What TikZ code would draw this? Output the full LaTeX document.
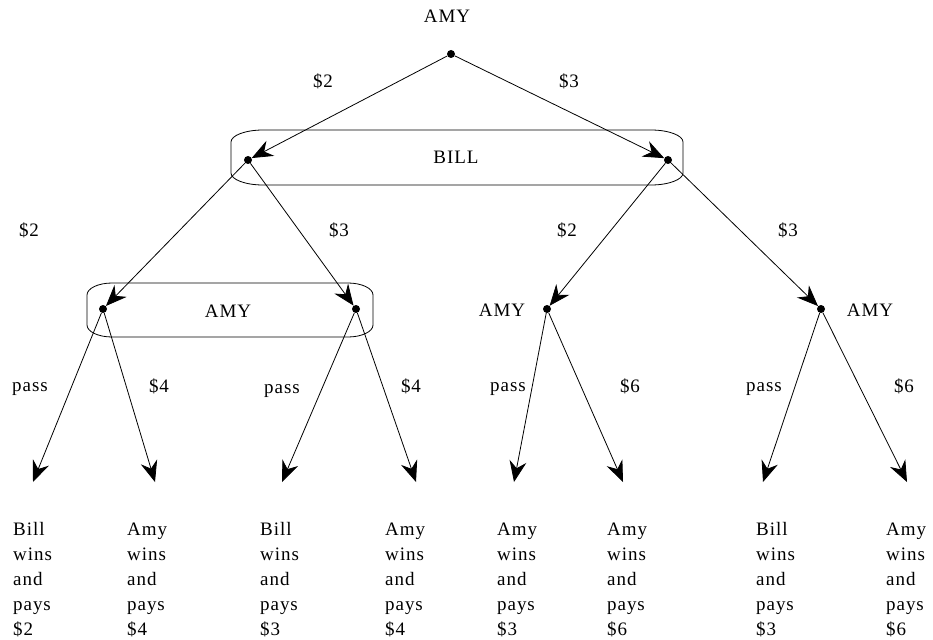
\documentclass[tikz,border=0pt]{standalone}
\usepackage{fontspec}
\setmainfont{Liberation Serif}[LetterSpace=5]
\usetikzlibrary{arrows.meta}
\begin{document}
\begin{tikzpicture}[x=1pt,y=-1pt,
  every node/.style={font=\fontsize{19}{25}\selectfont, inner sep=0pt},
  dot/.style={circle, fill=black, minimum size=8pt, inner sep=0pt},
  lbl/.style={anchor=base},
  leaf/.style={anchor=base west},
  edge/.style={line width=0.8pt, -{Stealth[length=21pt,width=17pt,inset=7pt]}},
  infoset/.style={line width=0.8pt}]
\useasboundingbox (0,0) rectangle (933,639);
% nodes
\node[dot] (r) at (451,54) {};
\node[lbl] (rt) at (447,23) {AMY};
\node[dot] (b1) at (248,160) {};
\node[dot] (b2) at (668,160) {};
\node[lbl] (bt) at (456,164) {BILL};
\node[dot] (a1) at (103,309) {};
\node[dot] (a2) at (356,309) {};
\node[dot] (a3) at (547,309) {};
\node[dot] (a4) at (821,309) {};
\node[lbl] (at1) at (228,317) {AMY};
\node[lbl] (at3) at (502,316) {AMY};
\node[lbl] (at4) at (870,316) {AMY};
% information sets
\draw[infoset] (263,130) -- (651,130) .. controls (668.6,130) and (683,135.4) .. (683,142) -- (683,173) .. controls (683,179.6) and (668.6,185) .. (651,185) -- (263,185) .. controls (245.4,185) and (231,179.6) .. (231,173) -- (231,142) .. controls (231,135.4) and (245.4,130) .. (263,130) -- cycle;
\draw[infoset] (112,283) -- (348,283) .. controls (361.75,283) and (373,288.4) .. (373,295) -- (373,325) .. controls (373,331.6) and (361.75,337) .. (348,337) -- (112,337) .. controls (98.25,337) and (87,331.6) .. (87,325) -- (87,295) .. controls (87,288.4) and (98.25,283) .. (112,283) -- cycle;
% leaf coordinates
\coordinate (l1) at (33,482);
\coordinate (l2) at (155,482);
\coordinate (l3) at (282,482);
\coordinate (l4) at (416,482);
\coordinate (l5) at (514,482);
\coordinate (l6) at (623,482);
\coordinate (l7) at (763,482);
\coordinate (l8) at (907,482);
% edges
\draw[edge] (r) -- (b1);
\draw[edge] (r) -- (b2);
\draw[edge] (b1) -- (a1);
\draw[edge] (b1) -- (a2);
\draw[edge] (b2) -- (a3);
\draw[edge] (b2) -- (a4);
\draw[edge] (a1) -- (l1);
\draw[edge] (a1) -- (l2);
\draw[edge] (a2) -- (l3);
\draw[edge] (a2) -- (l4);
\draw[edge] (a3) -- (l5);
\draw[edge] (a3) -- (l6);
\draw[edge] (a4) -- (l7);
\draw[edge] (a4) -- (l8);
% edge labels
\node[lbl] (e1) at (323,88) {\$2};
\node[lbl] (e2) at (569,88) {\$3};
\node[lbl] (e3) at (29,236) {\$2};
\node[lbl] (e4) at (339,236) {\$3};
\node[lbl] (e5) at (567,236) {\$2};
\node[lbl] (e6) at (788,236) {\$3};
\node[lbl] (e7) at (30,391) {pass};
\node[lbl] (e8) at (159,392) {\$4};
\node[lbl] (e9) at (282,393) {pass};
\node[lbl] (e10) at (411,392) {\$4};
\node[lbl] (e11) at (508,391) {pass};
\node[lbl] (e12) at (630,392) {\$6};
\node[lbl] (e13) at (764,391) {pass};
\node[lbl] (e14) at (904,392) {\$6};
% leaf texts
\newcommand{\leaftext}[5]{\parbox[t]{60pt}{\raggedright #1\\#2\\#3\\#4\\#5}}
\node[leaf] (t1) at (13,535) {\leaftext{Bill}{wins}{and}{pays}{\$2}};
\node[leaf] (t2) at (127,535) {\leaftext{Amy}{wins}{and}{pays}{\$4}};
\node[leaf] (t3) at (260,535) {\leaftext{Bill}{wins}{and}{pays}{\$3}};
\node[leaf] (t4) at (385,535) {\leaftext{Amy}{wins}{and}{pays}{\$4}};
\node[leaf] (t5) at (497,535) {\leaftext{Amy}{wins}{and}{pays}{\$3}};
\node[leaf] (t6) at (607,535) {\leaftext{Amy}{wins}{and}{pays}{\$6}};
\node[leaf] (t7) at (756,535) {\leaftext{Bill}{wins}{and}{pays}{\$3}};
\node[leaf] (t8) at (886,535) {\leaftext{Amy}{wins}{and}{pays}{\$6}};
\end{tikzpicture}
\end{document}
